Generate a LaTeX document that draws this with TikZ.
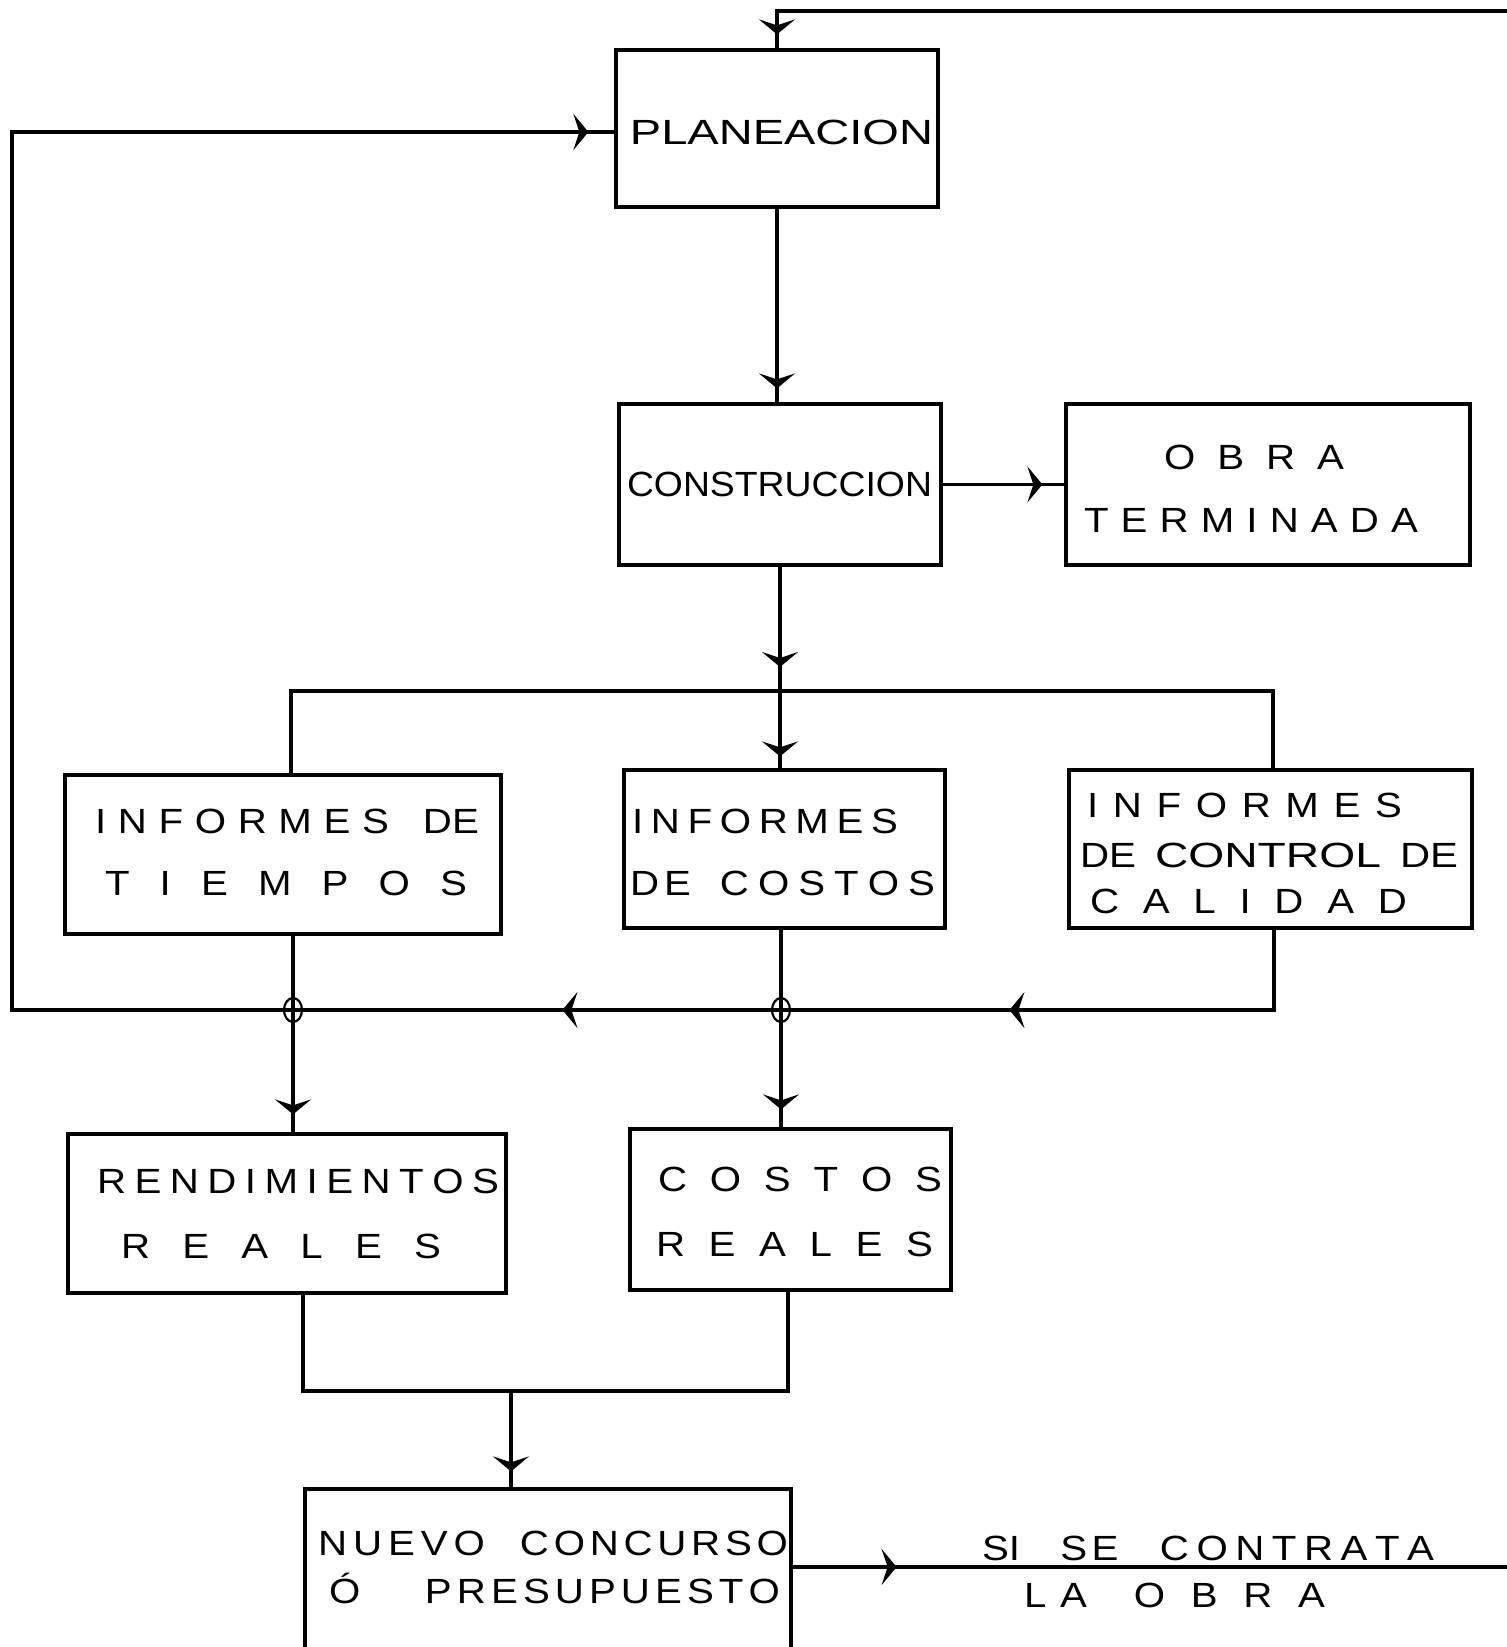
\documentclass[tikz,border=0pt]{standalone}
\usepackage{fontspec}
\setmainfont[FakeStretch=1.15]{Liberation Sans}
\usetikzlibrary{arrows.meta,decorations.markings,shapes.geometric}
\makeatletter
\def\sp@loop#1{\ifx#1\relax\else\hfil#1\expandafter\sp@loop\fi}
\def\sp@first#1{#1\sp@loop}
\newcommand\sprd[2]{\makebox[#1][s]{\sp@first#2\relax}}
\makeatother
\newcommand\fitw[2]{\resizebox{#1}{\height}{#2}}
\tikzset{
  >={Stealth[length=15pt,width=36pt,inset=6pt]},
  box/.style={draw,line width=3.2pt,rectangle,inner sep=0pt},
  conn/.style={line width=3.2pt},
  arr/.style={postaction={decorate},decoration={markings,mark=at position #1 with {\arrow{>}}}},
  lbl/.style={inner sep=0pt,font=\fontsize{35}{40}\selectfont},
  junc/.style={draw,line width=2.2pt,ellipse,minimum width=18pt,minimum height=24pt,inner sep=0pt}
}
\begin{document}
\begin{tikzpicture}[x=1pt,y=-1pt]
\useasboundingbox (0,0) rectangle (1507,1647);
\clip (0,0) rectangle (1507,1647);
\fill[white] (0,0) rectangle (1507,1647);
% boxes
\node[box,minimum width=322pt,minimum height=157pt] (plan) at (777,128.5) {};
\node[box,minimum width=322pt,minimum height=161pt] (cons) at (780,484.5) {};
\node[box,minimum width=404pt,minimum height=161pt] (obra) at (1268,484.5) {};
\node[box,minimum width=436pt,minimum height=159pt] (tiem) at (283,854.5) {};
\node[box,minimum width=321pt,minimum height=158pt] (icos) at (784.5,849) {};
\node[box,minimum width=403pt,minimum height=158pt] (cal) at (1270.5,849) {};
\node[box,minimum width=438pt,minimum height=159pt] (rend) at (287,1213.5) {};
\node[box,minimum width=321pt,minimum height=161pt] (creal) at (790.5,1209.5) {};
\node[box,minimum width=486pt,minimum height=200pt] (nuevo) at (548,1589) {};
% texts
\node[lbl] (tplan) at (781.5,132) {\fitw{303pt}{PLANEACION}};
\node[lbl] (tcons) at (779.5,484) {\fitw{305pt}{CONSTRUCCION}};
\node[lbl] (tobra1) at (1254,457) {\sprd{180pt}{OBRA}};
\node[lbl] (tobra2) at (1251,520) {\sprd{334pt}{TERMINADA}};
\node[lbl] (tt1) at (286.5,821) {\makebox[383pt][s]{\sprd{294pt}{INFORMES}\hfil\sprd{55pt}{DE}}};
\node[lbl] (tt2) at (286,883) {\sprd{362pt}{TIEMPOS}};
\node[lbl] (tc1) at (765,821) {\sprd{266pt}{INFORMES}};
\node[lbl] (tc2) at (782.5,883) {\makebox[305pt][s]{\sprd{61pt}{DE}\hfil\sprd{215pt}{COSTOS}}};
\node[lbl] (tq1) at (1244.5,805) {\sprd{315pt}{INFORMES}};
\node[lbl] (tq2) at (1269,855) {\makebox[378pt][s]{\fitw{56pt}{DE}\hfil\fitw{226pt}{CONTROL}\hfil\fitw{58pt}{DE}}};
\node[lbl] (tq3) at (1248.5,901) {\sprd{317pt}{CALIDAD}};
\node[lbl] (tr1) at (298,1181) {\sprd{402pt}{RENDIMIENTOS}};
\node[lbl] (tr2) at (281,1246) {\sprd{320pt}{REALES}};
\node[lbl] (tk1) at (800,1179) {\sprd{284pt}{COSTOS}};
\node[lbl] (tk2) at (794.5,1244) {\sprd{277pt}{REALES}};
\node[lbl] (tn1) at (553,1543) {\makebox[470pt][s]{\sprd{167pt}{NUEVO}\hfil\sprd{268pt}{CONCURSO}}};
\node[lbl,anchor=base] (tn2) at (554.5,1603) {\makebox[451pt][s]{Ó\hfil\sprd{355pt}{PRESUPUESTO}}};
\node[lbl] (ts1) at (1208,1548) {\makebox[452pt][s]{\sprd{37pt}{SI}\hfil\sprd{58pt}{SE}\hfil\sprd{274pt}{CONTRATA}}};
\node[lbl] (ts2) at (1174.5,1595) {\makebox[301pt][s]{\sprd{63pt}{LA}\hfil\sprd{191pt}{OBRA}}};
% coordinates
\coordinate (topR) at (1507,11);
\coordinate (br) at (780,691);
\coordinate (bl) at (291,691);
\coordinate (brr) at (1273,691);
\coordinate (fbR) at (1274,1010);
\coordinate (fbL) at (12,1010);
\coordinate (lvl) at (0,132);
\coordinate (mL) at (303,1391);
\coordinate (mR) at (788,1391);
\coordinate (mM) at (511,1391);
\coordinate (outR) at (1507,1567);
\node[junc] (j1) at (293,1010) {};
\node[junc] (j2) at (781,1010) {};
% connectors
\draw[conn,arr=-14pt] (topR) -| (plan.north);
\draw[conn,arr=-14pt] (plan.south) -- (plan.south |- cons.north);
\draw[conn,arr=-22pt] (cons.east) -- (obra.west |- cons.east);
\draw[conn,arr=-24pt] (cons.south) -- (br);
\draw[conn,arr=-12pt] (br) -- (br |- icos.north);
\draw[conn] (bl |- tiem.north) -- (bl) -- (brr) -- (brr |- cal.north);
\draw[conn,postaction={decorate},decoration={markings,
   mark=at position 345pt with {\arrow{>}},
   mark=at position 792pt with {\arrow{>}},
   mark=at position -26pt with {\arrow{>}}}]
   (fbR |- cal.south) -- (fbR) -- (fbL) -- (fbL |- lvl) -- (plan.west |- lvl);
\draw[conn,arr=-18pt] (j1.center |- tiem.south) -- (j1.center |- rend.north);
\draw[conn,arr=-18pt] (j2.center |- icos.south) -- (j2.center |- creal.north);
\draw[conn] (mL |- rend.south) -- (mL) -- (mR) -- (mR |- creal.south);
\draw[conn,arr=-16pt] (mM) -- (mM |- nuevo.north);
\draw[conn,arr=104pt] (nuevo.east |- outR) -- (outR);
\end{tikzpicture}
\end{document}
